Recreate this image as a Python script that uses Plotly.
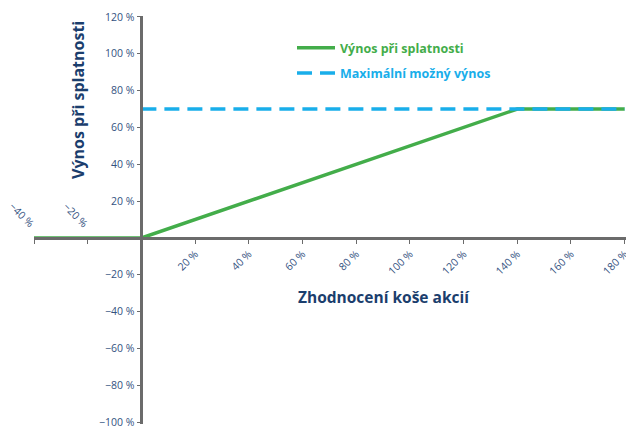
import plotly.graph_objects as go

# Data
payoff_x = [-40, 0, 140, 180]
payoff_y = [0, 0, 70, 70]
cap_x = [0, 180]
cap_y = [70, 70]

y_tickvals = [-100, -80, -60, -40, -20, 20, 40, 60, 80, 100, 120]
y_ticktext = ["−100 %", "−80 %", "−60 %", "−40 %", "−20 %", "20 %", "40 %", "60 %", "80 %", "100 %", "120 %"]
x_tickvals = [-40, -20, 20, 40, 60, 80, 100, 120, 140, 160, 180]
x_ticktext = ["", "", "20 %", "40 %", "60 %", "80 %", "100 %", "120 %", "140 %", "160 %", "180 %"]
neg_x_ticks = [-40, -20]
neg_x_labels = ["−40 %", "−20 %"]

GREEN = "#43ad4a"
BLUE = "#19aeea"
NAVY = "#1b3e6d"
TICKC = "#34527f"
AXC = "#6b6b6b"
FONT = "Open Sans"

X_RANGE = [-40, 180.5]
Y_RANGE = [-101, 120.5]
ML, MR, MT, MB = 34, 0, 16, 3
W, H = 626, 427

fig = go.Figure()
fig.add_trace(go.Scatter(
    x=payoff_x, y=payoff_y, mode="lines", legendgroup="a",
    line=dict(color=GREEN, width=3.5),
    name=f"<b><span style='color:{GREEN}'>Výnos při splatnosti</span></b>",
))
fig.add_trace(go.Scatter(
    x=cap_x, y=cap_y, mode="lines", legendgroup="b",
    line=dict(color=BLUE, width=3.5, dash="15px,8px"),
    name=f"<b><span style='color:{BLUE}'>Maximální možný výnos</span></b>",
))

x_pos = (0 - X_RANGE[0]) / (X_RANGE[1] - X_RANGE[0])
y_pos = (0 - Y_RANGE[0]) / (Y_RANGE[1] - Y_RANGE[0])
PW, PH = W - ML - MR, H - MT - MB

fig.update_layout(
    width=W, height=H,
    margin=dict(l=ML, r=MR, t=MT, b=MB, autoexpand=False),
    paper_bgcolor="white", plot_bgcolor="white",
    font=dict(family=FONT, color=TICKC, size=10.5),
    showlegend=True,
    legend=dict(
        x=(292 - ML) / PW, y=(H - MB - 33) / PH, xanchor="left", yanchor="top",
        bgcolor="rgba(0,0,0,0)", font=dict(size=12.5, family=FONT),
        itemwidth=38, tracegroupgap=6,
    ),
    xaxis=dict(
        range=X_RANGE, domain=[0, 1], anchor="free", position=y_pos, automargin=False,
        showgrid=False, zeroline=False, showline=True, linecolor=AXC, linewidth=2.5,
        ticks="outside", ticklen=4, tickcolor=AXC, tickwidth=1,
        tickvals=x_tickvals, ticktext=x_ticktext, tickangle=-45,
        ticklabeloverflow="allow",
        tickfont=dict(size=10.5, color=TICKC),
    ),
    yaxis=dict(
        range=Y_RANGE, domain=[0, 1], anchor="free", position=x_pos, automargin=False,
        showgrid=False, zeroline=False, showline=True, linecolor=AXC, linewidth=2.5,
        ticks="outside", ticklen=4, tickcolor=AXC, tickwidth=1,
        tickvals=y_tickvals, ticktext=y_ticktext,
        ticklabeloverflow="allow",
        tickfont=dict(size=10.5, color=TICKC),
    ),
)

for xv, lab in zip(neg_x_ticks, neg_x_labels):
    fig.add_annotation(
        x=xv, y=0, xref="x", yref="y", text=lab, showarrow=False,
        textangle=45, xanchor="center", yanchor="middle",
        xshift=-12, yshift=23, font=dict(size=10.5, color=TICKC, family=FONT),
    )

# titles placed by pixel position, converted to paper coords
titles = [
    (384, 297, "<b>Zhodnocení koše akcií</b>", 0, 15.5),
    (78, 100, "<b>Výnos při splatnosti</b>", -90, 16),
]
for px, py, txt, ang, fs in titles:
    fig.add_annotation(
        x=(px - ML) / PW, y=(H - MB - py) / PH, xref="paper", yref="paper",
        text=txt, showarrow=False, textangle=ang,
        font=dict(size=fs, color=NAVY, family=FONT), xanchor="center", yanchor="middle",
    )

fig.write_html("out.html", config={"displayModeBar": False},
               post_script="document.body.style.margin='0';")
